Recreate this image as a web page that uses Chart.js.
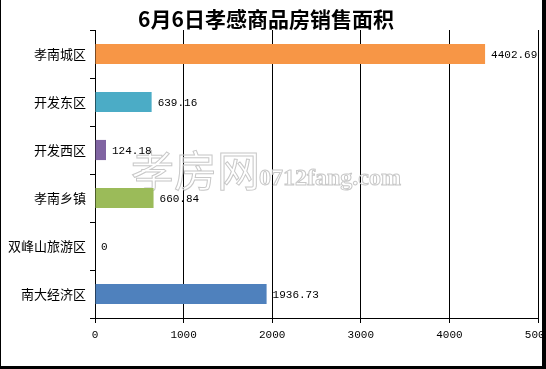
<!DOCTYPE html>
<html>
<head>
<meta charset="utf-8">
<script src="https://cdn.jsdelivr.net/npm/chart.js@4/dist/chart.umd.min.js"></script>
<style>
  html, body { margin: 0; padding: 0; background: #fff; }
  #wrap { width: 546px; height: 369px; position: relative; }
</style>
</head>
<body>
<div id="wrap"><canvas id="salesarea"></canvas></div>
<script>
// categories and values (sale area, m2)
var regions = ['孝南城区', '开发东区', '开发西区', '孝南乡镇', '双峰山旅游区', '南大经济区'];
var areas = [4402.69, 639.16, 124.18, 660.84, 0, 1936.73];
var areaLabels = ['4402.69', '639.16', '124.18', '660.84', '0', '1936.73'];
var barColors = ['#F79646', '#4BACC6', '#8064A2', '#9BBB59', '#4F81BD', '#4F81BD'];
var xTicks = [0, 1000, 2000, 3000, 4000, 5000];
var titleText = '6月6日孝感商品房销售面积';

var numFont = '"Liberation Mono", "DejaVu Sans Mono", monospace';
var cjkFont = '"Noto Sans CJK SC", sans-serif';

// title, watermark, frame
var decor = {
    id: 'decor',
    beforeDatasetsDraw: function (chart) {
        var ctx = chart.ctx;
        ctx.save();
        ctx.strokeStyle = '#c8c8c8';
        ctx.lineWidth = 1;
        ctx.textBaseline = 'alphabetic';
        ctx.font = '43px ' + cjkFont;
        ctx.strokeText('孝房网', 131, 187);
        ctx.font = 'bold 24px "Liberation Serif", serif';
        ctx.strokeText('0712fang.com', 259, 185);
        ctx.restore();
    },
    afterDraw: function (chart) {
        var ctx = chart.ctx;
        ctx.save();
        ctx.fillStyle = '#000';
        ctx.font = 'bold 21px ' + cjkFont;
        ctx.textAlign = 'center';
        ctx.textBaseline = 'middle';
        ctx.fillText(titleText, 266, 19);
        // frame
        ctx.fillRect(0, 0, 1, 369);
        ctx.fillRect(542, 0, 4, 369);
        ctx.fillRect(0, 366, 546, 3);
        ctx.restore();
    }
};

// value labels at the bar ends
var valueLabels = {
    id: 'valueLabels',
    afterDatasetsDraw: function (chart) {
        var ctx = chart.ctx;
        var meta = chart.getDatasetMeta(0);
        ctx.save();
        ctx.fillStyle = '#000';
        ctx.font = '11px ' + numFont;
        ctx.textAlign = 'left';
        ctx.textBaseline = 'middle';
        meta.data.forEach(function (bar, i) {
            ctx.fillText(areaLabels[i], bar.x + 6, bar.y + 1);
        });
        ctx.restore();
    }
};

var ctxl = document.getElementById('salesarea');
var myBarChart = new Chart(ctxl, {
    type: 'bar',
    data: {
        labels: regions,
        datasets: [{
            data: areas,
            backgroundColor: barColors,
            borderWidth: 0,
            categoryPercentage: 1,
            barPercentage: 0.42
        }]
    },
    options: {
        indexAxis: 'y',
        responsive: true,
        maintainAspectRatio: false,
        animation: false,
        layout: { padding: { top: 30, right: 8, bottom: 0, left: 0 } },
        plugins: {
            legend: { display: false },
            tooltip: { enabled: false }
        },
        scales: {
            x: {
                min: 0,
                max: 5000,
                afterBuildTicks: function (scale) {
                    scale.ticks = xTicks.map(function (v) { return { value: v }; });
                },
                afterFit: function (scale) {
                    scale.height = 51;
                    scale.paddingLeft = 0;
                    scale.paddingRight = 0;
                },
                grid: {
                    color: '#000',
                    lineWidth: 1,
                    tickLength: 5
                },
                border: { display: true, color: '#000', width: 1 },
                ticks: {
                    color: '#000',
                    padding: 5,
                    maxRotation: 0,
                    font: { family: numFont, size: 11 },
                    callback: function (value) { return String(value); }
                }
            },
            y: {
                afterFit: function (scale) {
                    scale.width = 95;
                },
                grid: {
                    offset: true,
                    drawOnChartArea: false,
                    color: '#000',
                    tickLength: 5
                },
                border: { display: true, color: '#000', width: 1 },
                ticks: {
                    color: '#000',
                    padding: 4,
                    font: { family: cjkFont, size: 13 }
                }
            }
        }
    },
    plugins: [decor, valueLabels]
});
</script>
</body>
</html>
